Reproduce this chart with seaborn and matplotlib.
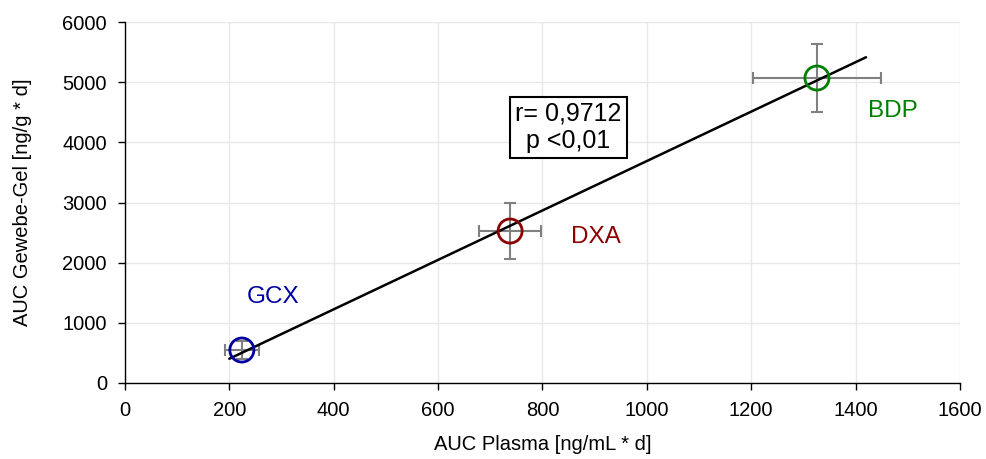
import numpy as np
import pandas as pd
import matplotlib
matplotlib.use("Agg")
import matplotlib.pyplot as plt
import seaborn as sns

# Daten
substances = ["GCX", "DXA", "BDP"]
auc_plasma = [224, 738, 1326]
auc_plasma_err = [33, 60, 123]
auc_gel = [548, 2526, 5069]
auc_gel_err = [150, 465, 565]
colors = ["#0000A0", "#8B0000", "#008000"]
fit_range = [200, 1420]
stat_text = "r= 0,9712\np <0,01"

df = pd.DataFrame({"substance": substances, "plasma": auc_plasma, "gel": auc_gel})

sns.set_style("white")
plt.rcParams["font.family"] = ["Liberation Sans", "DejaVu Sans"]
plt.rcParams["text.color"] = "black"
plt.rcParams["axes.labelcolor"] = "black"
plt.rcParams["xtick.color"] = "black"
plt.rcParams["ytick.color"] = "black"

fig = plt.figure(figsize=(9.87, 4.59), dpi=100)
ax = fig.add_axes([0.1266, 0.1656, 0.8460, 0.7864])

# Regressionsgerade
slope, intercept = np.polyfit(auc_plasma, auc_gel, 1)
fit_x = np.array(fit_range)
sns.lineplot(x=fit_x, y=slope * fit_x + intercept, color="black", linewidth=1.8, ax=ax, zorder=3)

# Fehlerbalken
ax.errorbar(auc_plasma, auc_gel, xerr=auc_plasma_err, yerr=auc_gel_err, fmt="none",
            ecolor="#808080", elinewidth=1.5, capsize=4, capthick=1.5, zorder=2)

# Punkte (offene Kreise)
sns.scatterplot(data=df, x="plasma", y="gel", hue="substance", palette=colors,
                s=300, linewidth=2, legend=False, ax=ax, zorder=4)
pts = ax.collections[-1]
pts.set_edgecolors(colors)
pts.set_facecolors("none")

# Beschriftungen
label_pos = [(234, 1430), (855, 2430), (1424, 4520)]
for name, (lx, ly), c in zip(substances, label_pos, colors):
    ax.text(lx, ly, name, color=c, fontsize=17.5, ha="left", va="center")

ax.text(850, 4250, stat_text, fontsize=18, ha="center", va="center", linespacing=1.15,
        bbox=dict(boxstyle="square,pad=0.2", facecolor="white", edgecolor="black", linewidth=1.5))

ax.set_xlim(0, 1600)
ax.set_ylim(0, 6000)
ax.set_xticks(range(0, 1601, 200))
ax.set_yticks(range(0, 6001, 1000))
ax.grid(True, color="#E8E8E8", linewidth=1)
ax.set_axisbelow(True)
for side in ["top", "right"]:
    ax.spines[side].set_visible(False)
for side in ["left", "bottom"]:
    ax.spines[side].set_color("black")
    ax.spines[side].set_linewidth(1)
ax.tick_params(axis="both", direction="out", length=5, width=1, color="black",
               labelcolor="black", labelsize=14.5, pad=8, bottom=True, left=True)
ax.set_xlabel("AUC Plasma [ng/mL * d]", fontsize=14.5, labelpad=11)
ax.set_ylabel("AUC Gewebe-Gel [ng/g * d]", fontsize=14.5, labelpad=22)

fig.savefig("out.png", dpi=100)
